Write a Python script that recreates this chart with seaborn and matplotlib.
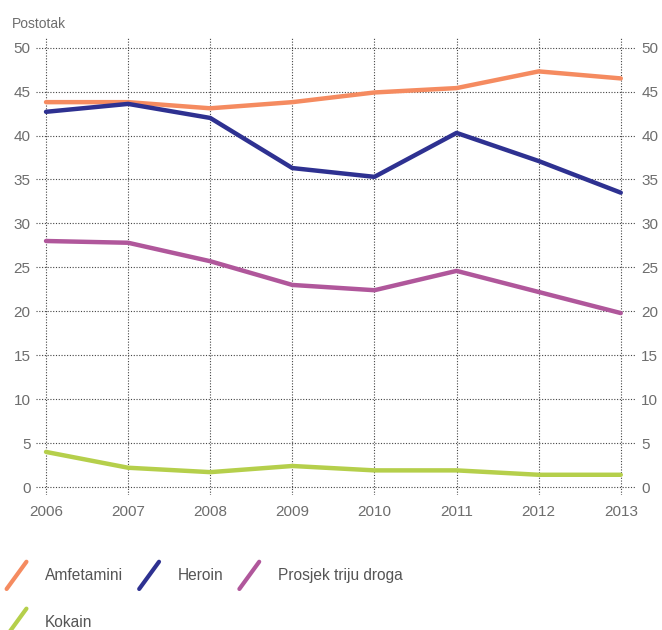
import pandas as pd
import matplotlib
matplotlib.use("Agg")
import matplotlib.pyplot as plt
import seaborn as sns
from matplotlib.lines import Line2D
from matplotlib.legend_handler import HandlerBase

# Podaci ocitani sa grafikona
godine = [2006, 2007, 2008, 2009, 2010, 2011, 2012, 2013]
amfetamini = [43.8, 43.8, 43.1, 43.8, 44.9, 45.4, 47.3, 46.5]
heroin = [42.7, 43.6, 42.0, 36.3, 35.3, 40.3, 37.1, 33.5]
prosjek = [28.0, 27.8, 25.7, 23.0, 22.4, 24.6, 22.2, 19.8]
kokain = [4.0, 2.2, 1.7, 2.4, 1.9, 1.9, 1.4, 1.4]

serije = ["Amfetamini", "Heroin", "Prosjek triju droga", "Kokain"]
boje = ["#f58b60", "#2e3191", "#b0579b", "#b5cf4b"]
y_ticks = [0, 5, 10, 15, 20, 25, 30, 35, 40, 45, 50]

df = pd.DataFrame({
    "Godina": godine * 4,
    "Vrijednost": amfetamini + heroin + prosjek + kokain,
    "Serija": [s for s in serije for _ in godine],
})

sns.set_style("white")
plt.rcParams["font.family"] = ["Liberation Sans", "DejaVu Sans"]
siva = "#6d6d6d"

fig = plt.figure(figsize=(6.62, 6.30), dpi=100)
ax = fig.add_axes([0.0544, 0.2143, 0.906, 0.7254])

sns.lineplot(data=df, x="Godina", y="Vrijednost", hue="Serija",
             palette=dict(zip(serije, boje)), linewidth=3.2, legend=False, ax=ax)

ax.set_xlim(godine[0] - 0.122, godine[-1] + 0.183)
ax.set_ylim(-0.9, 51.1)
ax.set_xticks(godine)
ax.set_yticks(y_ticks)
ax.set_xlabel("")
ax.set_ylabel("")
for s in ax.spines.values():
    s.set_visible(False)

ax.grid(True, linestyle=(0, (1, 1.5)), color="#444444", linewidth=0.8)
ax.set_axisbelow(True)
ax.tick_params(axis="both", length=0, labelsize=11, labelcolor=siva)
ax.tick_params(axis="y", labelright=True, pad=4)
ax.tick_params(axis="x", pad=7)

fig.text(0.018, 0.962, "Postotak", fontsize=10, color=siva, ha="left", va="center")


class KosaCrta(HandlerBase):
    def create_artists(self, legend, orig_handle, xdescent, ydescent,
                       width, height, fontsize, trans):
        x0, y0 = -xdescent, -ydescent
        ln = Line2D([x0 + width * 0.1, x0 + width * 0.85],
                    [y0 - height * 0.8, y0 + height * 1.7],
                    color=orig_handle.get_color(), linewidth=3, transform=trans)
        return [ln]


# legenda se puni po stupcima, pa redoslijed slazemo da ide po redovima
redoslijed = [0, 3, 1, 2]
handles = [Line2D([], [], color=boje[i]) for i in redoslijed]
labels = [serije[i] for i in redoslijed]
fig.legend(handles, labels, loc="upper left", bbox_to_anchor=(0.006, 0.098),
           ncol=3, frameon=False, fontsize=11.2, labelcolor="#555555",
           handler_map={Line2D: KosaCrta()}, handlelength=1.7, handletextpad=0.95,
           columnspacing=0.85, labelspacing=2.05, borderpad=0, borderaxespad=0)

fig.savefig("out.png", dpi=100)
